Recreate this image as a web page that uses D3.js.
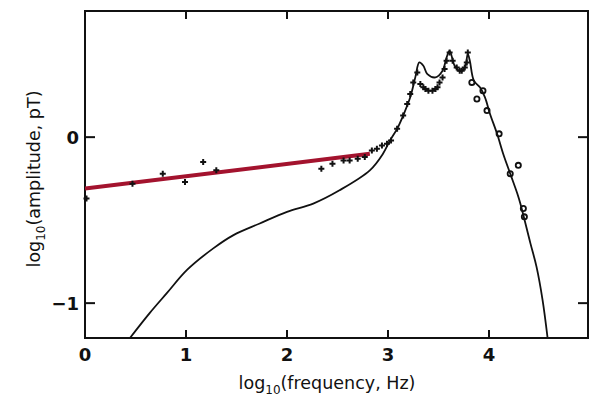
<!DOCTYPE html>
<html>
<head>
<meta charset="utf-8">
<script src="https://cdn.jsdelivr.net/npm/d3@7"></script>
<style>
  body { margin: 0; background: #fff; }
  svg text { font-family: "DejaVu Sans", sans-serif; fill: #111; }
</style>
</head>
<body>
<div class="chart"></div>
<script>
var width = 596, height = 402;

// model curve (solid line)
var modelX = [0.445, 0.64, 0.81, 1.01, 1.27, 1.47, 1.73, 2.0, 2.26, 2.52, 2.82, 2.95, 3.02, 3.09, 3.15, 3.22, 3.27, 3.31,
  3.35, 3.39, 3.47, 3.54, 3.58, 3.61, 3.66, 3.71, 3.76, 3.79, 3.81, 3.85, 3.91, 3.96, 4.01, 4.08, 4.14, 4.21, 4.28,
  4.31, 4.41, 4.47, 4.53, 4.58];
var modelY = [-1.21, -1.06, -0.94, -0.80, -0.67, -0.59, -0.52, -0.45, -0.40, -0.32, -0.20, -0.10, -0.02, 0.05, 0.13, 0.24, 0.36, 0.45,
  0.43, 0.38, 0.36, 0.40, 0.48, 0.52, 0.43, 0.40, 0.42, 0.50, 0.46, 0.34, 0.30, 0.24, 0.14, 0.02, -0.10, -0.22, -0.34,
  -0.40, -0.64, -0.78, -0.98, -1.21];

// measured points (+)
var plusX = [0.0, 0.47, 0.77, 0.99, 1.17, 1.30, 2.34, 2.45, 2.56, 2.62, 2.70, 2.77, 2.84, 2.89, 2.94, 2.99, 3.03,
  3.09, 3.15, 3.19, 3.22, 3.25, 3.29, 3.32, 3.35, 3.37, 3.40, 3.44, 3.47, 3.49, 3.51, 3.54, 3.56, 3.58, 3.61, 3.64,
  3.68, 3.71, 3.73, 3.76, 3.78, 3.79];
var plusY = [-0.37, -0.28, -0.22, -0.27, -0.15, -0.20, -0.19, -0.16, -0.14, -0.14, -0.13, -0.12, -0.08, -0.07, -0.05, -0.04, -0.02,
  0.05, 0.13, 0.20, 0.26, 0.33, 0.39, 0.32, 0.30, 0.29, 0.28, 0.28, 0.29, 0.30, 0.33, 0.36, 0.41, 0.46, 0.51, 0.46,
  0.42, 0.40, 0.40, 0.42, 0.45, 0.51];

// measured points (o)
var circX = [3.83, 3.88, 3.94, 3.98, 4.10, 4.21, 4.29, 4.34, 4.35];
var circY = [0.33, 0.23, 0.28, 0.16, 0.02, -0.22, -0.17, -0.43, -0.48];

// low-frequency fit (red)
var fitX = [0, 2.82];
var fitY = [-0.31, -0.10];

var xTicks = [0, 1, 2, 3, 4];
var yTicks = [0, -1];

var x = d3.scaleLinear().domain([0, 4.98]).range([85, 588]);
var y = d3.scaleLinear().domain([-1.21, 0.76]).range([338, 11]);

var svg = d3.select('.chart')
	.append('svg')
	.attr('width', width)
	.attr('height', height);

// frame
svg.append('rect')
	.attr('x', x(0)).attr('y', y(0.76))
	.attr('width', x(4.98) - x(0)).attr('height', y(-1.21) - y(0.76))
	.attr('fill', 'none').attr('stroke', '#111').attr('stroke-width', 2);

// ticks, pointing inward on all four sides
var g = svg.append('g').attr('stroke', '#111').attr('stroke-width', 2);
xTicks.filter(function(t) { return t > 0; }).forEach(function(t) {
	g.append('line').attr('x1', x(t)).attr('x2', x(t)).attr('y1', y(-1.21)).attr('y2', y(-1.21) - 8);
	g.append('line').attr('x1', x(t)).attr('x2', x(t)).attr('y1', y(0.76)).attr('y2', y(0.76) + 8);
});
yTicks.forEach(function(t) {
	g.append('line').attr('x1', x(0)).attr('x2', x(0) + 10).attr('y1', y(t)).attr('y2', y(t));
	g.append('line').attr('x1', x(4.98)).attr('x2', x(4.98) - 10).attr('y1', y(t)).attr('y2', y(t));
});

svg.selectAll('.xlab')
	.data(xTicks)
	.enter().append('text')
	.attr('class', 'xlab')
	.attr('x', function(d) { return x(d); })
	.attr('y', 361)
	.attr('text-anchor', 'middle')
	.attr('font-size', 18)
	.attr('font-weight', 'bold')
	.text(function(d) { return d; });

svg.selectAll('.ylab')
	.data(yTicks)
	.enter().append('text')
	.attr('class', 'ylab')
	.attr('x', 79)
	.attr('y', function(d) { return y(d) + 7; })
	.attr('text-anchor', 'end')
	.attr('font-size', 18)
	.attr('font-weight', 'bold')
	.text(function(d) { return d < 0 ? '\u2212' + Math.abs(d) : d; });

// axis titles
var xt = svg.append('text')
	.attr('x', 327).attr('y', 389)
	.attr('text-anchor', 'middle')
	.attr('font-size', 17.5);
xt.append('tspan').text('log');
xt.append('tspan').attr('font-size', 12).attr('dy', 5).text('10');
xt.append('tspan').attr('dy', -5).text('(frequency, Hz)');

var yt = svg.append('text')
	.attr('transform', 'translate(40,179) rotate(-90)')
	.attr('text-anchor', 'middle')
	.attr('font-size', 17.5);
yt.append('tspan').text('log');
yt.append('tspan').attr('font-size', 12).attr('dy', 5).text('10');
yt.append('tspan').attr('dy', -5).text('(amplitude, pT)');

// clip to plot box
svg.append('clipPath').attr('id', 'plot')
	.append('rect')
	.attr('x', x(0)).attr('y', y(0.76))
	.attr('width', x(4.98) - x(0)).attr('height', y(-1.21) - y(0.76));

var plot = svg.append('g').attr('clip-path', 'url(#plot)');

var line = d3.line()
	.x(function(d) { return x(d[0]); })
	.y(function(d) { return y(d[1]); })
	.curve(d3.curveCatmullRom.alpha(0.5));

plot.append('path')
	.attr('d', line(d3.zip(modelX, modelY)))
	.attr('fill', 'none')
	.attr('stroke', '#111')
	.attr('stroke-width', 1.8);

svg.selectAll('.plus')
	.data(d3.zip(plusX, plusY))
	.enter().append('path')
	.attr('class', 'plus')
	.attr('transform', function(d) { return 'translate(' + (x(d[0]) + (d[0] === 0 ? 1.5 : 0)) + ',' + y(d[1]) + ')'; })
	.attr('d', 'M-3,0H3M0,-3V3')
	.attr('stroke', '#111')
	.attr('stroke-width', 2);

plot.selectAll('.circ')
	.data(d3.zip(circX, circY))
	.enter().append('circle')
	.attr('class', 'circ')
	.attr('cx', function(d) { return x(d[0]); })
	.attr('cy', function(d) { return y(d[1]); })
	.attr('r', 2.6)
	.attr('fill', 'none')
	.attr('stroke', '#111')
	.attr('stroke-width', 1.8);

plot.append('line')
	.attr('x1', x(fitX[0])).attr('y1', y(fitY[0]))
	.attr('x2', x(fitX[1])).attr('y2', y(fitY[1]))
	.attr('stroke', '#a3132e')
	.attr('stroke-width', 4);
</script>
</body>
</html>
